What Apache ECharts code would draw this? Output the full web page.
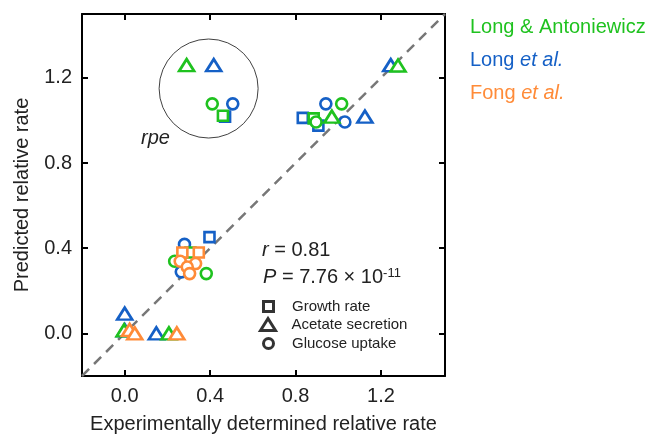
<!DOCTYPE html>
<html>
<head>
<meta charset="utf-8">
<script src="https://cdn.jsdelivr.net/npm/echarts@6/dist/echarts.min.js"></script>
<style>
	html, body { margin: 0; padding: 0; background: #fff; }
	#echart { width: 652px; height: 434px; }
</style>
</head>
<body>
<div id="echart"></div>
<script>
let ticks = [0.0, 0.4, 0.8, 1.2];
let identityLine = [[-0.2, -0.2], [1.5, 1.5]];
let rpeCircle = [[0.393, 1.150]];

// Long et al. (blue)
let longGrowth = [[0.47, 1.018], [0.834, 1.012], [0.907, 0.976], [0.397, 0.452]];
let longAcetate = [[0.417, 1.26], [1.125, 1.018], [1.246, 1.26], [0.0, 0.093], [0.0, 0.015], [0.148, 0.0]];
let longGlucose = [[0.506, 1.078], [0.942, 1.078], [1.031, 0.993], [0.28, 0.418], [0.265, 0.289]];

// Long & Antoniewicz (green)
let antGrowth = [[0.46, 1.022], [0.885, 1.01], [0.308, 0.38]];
let antAcetate = [[0.29, 1.26], [0.97, 1.018], [1.28, 1.258], [-0.003, 0.014], [0.207, 0.0]];
let antGlucose = [[0.41, 1.078], [0.896, 0.993], [1.016, 1.078], [0.234, 0.339], [0.382, 0.281]];

// Fong et al. (orange)
let fongGrowth = [[0.27, 0.38], [0.347, 0.38]];
let fongAcetate = [[0.023, 0.017], [0.047, 0.0], [0.244, 0.0]];
let fongGlucose = [[0.26, 0.339], [0.332, 0.328], [0.293, 0.312], [0.304, 0.281]];

let green = '#1fc21f';
let blue = '#1560c6';
let orange = '#ff8b38';
let font = "'Liberation Sans', Arial, sans-serif";
let triPath = 'path://M0,12L7.5,0L15,12Z';
let sqPath = 'path://M0,0L10,0L10,10L0,10Z';

function pointSeries(name, data, shape, color) {
	let size = 11;
	let symbol = 'circle';
	if (shape == 'rect') { symbol = 'rect'; size = 10; }
	if (shape == 'triangle') { symbol = triPath; size = [15, 12]; }
	return {
		name: name,
		type: 'scatter',
		data: data,
		symbol: symbol,
		symbolSize: size,
		z: 5,
		itemStyle: { color: '#fff', borderColor: color, borderWidth: 2.6, opacity: 1 }
	};
}

function shapeKey(name, symbol) {
	return {
		name: name,
		type: 'scatter',
		data: [],
		symbol: symbol,
		itemStyle: { color: '#fff', borderColor: '#000', borderWidth: 3 }
	};
}

// one legend per shape so each key can have its own size
function shapeLegend(name, icon, left, top, h) {
	return {
		data: [{ name: name, icon: icon }],
		selectedMode: false,
		left: left,
		top: top,
		padding: 0,
		itemWidth: 35,
		itemHeight: h,
		itemStyle: { color: '#fff', borderColor: '#000', borderWidth: 3 },
		textStyle: { fontSize: 15, fontFamily: font, color: '#222', padding: [0, 0, 0, 1] }
	};
}

function axisFrame(pos, labels) {
	return {
		type: 'value',
		position: pos,
		min: -0.2,
		max: 1.5,
		splitLine: { show: false },
		axisLine: { show: true, onZero: false, lineStyle: { color: '#000', width: 2 } },
		axisTick: { show: true, inside: true, length: 6, customValues: ticks, lineStyle: { color: '#000', width: 2 } },
		axisLabel: {
			show: labels,
			customValues: ticks,
			margin: 10,
			fontSize: 20,
			fontFamily: font,
			color: '#222',
			formatter: v => v.toFixed(1)
		}
	};
}

function drawChart() {
	let dom = document.getElementById("echart");
	let myChart = echarts.init(dom);

	let xBottom = axisFrame('bottom', true);
	xBottom.name = 'Experimentally determined relative rate';
	xBottom.nameLocation = 'middle';
	xBottom.nameGap = 38;
	xBottom.nameTextStyle = { fontSize: 20, fontFamily: font, color: '#222' };

	let yLeft = axisFrame('left', true);
	yLeft.name = 'Predicted relative rate';
	yLeft.nameLocation = 'middle';
	yLeft.nameGap = 50;
	yLeft.nameTextStyle = { fontSize: 20, fontFamily: font, color: '#222' };

	let option = {
		animation: false,
		grid: { left: 82, top: 14, right: 207, bottom: 58, outerBoundsMode: 'none' },
		xAxis: [xBottom, axisFrame('top', false)],
		yAxis: [yLeft, axisFrame('right', false)],
		legend: [
			{
				data: [
					{ name: 'Long & Antoniewicz', icon: 'none' },
					{ name: 'Long et al.', icon: 'none' },
					{ name: 'Fong et al.', icon: 'none' }
				],
				selectedMode: false,
				orient: 'vertical',
				left: 455,
				top: 17,
				padding: 0,
				itemWidth: 10,
				itemGap: 13,
				formatter: function(name) {
					if (name == 'Long et al.') return '{b|Long} {bi|et al.}';
					if (name == 'Fong et al.') return '{o|Fong} {oi|et al.}';
					return '{g|' + name + '}';
				},
				textStyle: {
					fontSize: 20,
					fontFamily: font,
					rich: {
						g: { color: green, fontSize: 20, fontFamily: font },
						b: { color: blue, fontSize: 20, fontFamily: font },
						bi: { color: blue, fontSize: 20, fontFamily: font, fontStyle: 'italic' },
						o: { color: orange, fontSize: 20, fontFamily: font },
						oi: { color: orange, fontSize: 20, fontFamily: font, fontStyle: 'italic' }
					}
				}
			},
			shapeLegend('Growth rate', sqPath, 262, 299, 10),
			shapeLegend('Acetate secretion', triPath, 259, 317, 12),
			shapeLegend('Glucose uptake', 'circle', 262, 336, 10)
		],
		graphic: [
			{
				type: 'text',
				left: 141,
				top: 128,
				style: { text: 'rpe', fontSize: 20, fontStyle: 'italic', fontFamily: font, fill: '#222' }
			},
			{
				type: 'text',
				left: 262,
				top: 240,
				style: {
					text: '{i|r} = 0.81',
					fontSize: 20,
					fontFamily: font,
					fill: '#222',
					rich: { i: { fontStyle: 'italic', fontSize: 20, fontFamily: font } }
				}
			},
			{
				type: 'text',
				left: 263,
				top: 267,
				style: {
					text: '{i|P} = 7.76 × 10{s|-11}',
					fontSize: 20,
					fontFamily: font,
					fill: '#222',
					rich: {
						i: { fontStyle: 'italic', fontSize: 20, fontFamily: font },
						s: { fontSize: 13, fontFamily: font, verticalAlign: 'top' }
					}
				}
			}
		],
		series: [
			{
				type: 'line',
				data: identityLine,
				symbol: 'none',
				silent: true,
				z: 1,
				lineStyle: { color: '#777', width: 2.5, type: [10, 7] }
			},
			{
				type: 'scatter',
				data: rpeCircle,
				symbol: 'circle',
				symbolSize: 99,
				silent: true,
				z: 1,
				itemStyle: { color: 'rgba(0,0,0,0)', borderColor: '#111', borderWidth: 1 }
			},
			pointSeries('Long et al.', longGrowth, 'rect', blue),
			pointSeries('Long et al.', longAcetate, 'triangle', blue),
			pointSeries('Long et al.', longGlucose, 'circle', blue),
			pointSeries('Long & Antoniewicz', antGrowth, 'rect', green),
			pointSeries('Long & Antoniewicz', antAcetate, 'triangle', green),
			pointSeries('Long & Antoniewicz', antGlucose, 'circle', green),
			pointSeries('Fong et al.', fongGrowth, 'rect', orange),
			pointSeries('Fong et al.', fongAcetate, 'triangle', orange),
			pointSeries('Fong et al.', fongGlucose, 'circle', orange),
			shapeKey('Growth rate', sqPath),
			shapeKey('Acetate secretion', triPath),
			shapeKey('Glucose uptake', 'circle')
		]
	};

	myChart.setOption(option);
}

drawChart();
</script>
</body>
</html>
